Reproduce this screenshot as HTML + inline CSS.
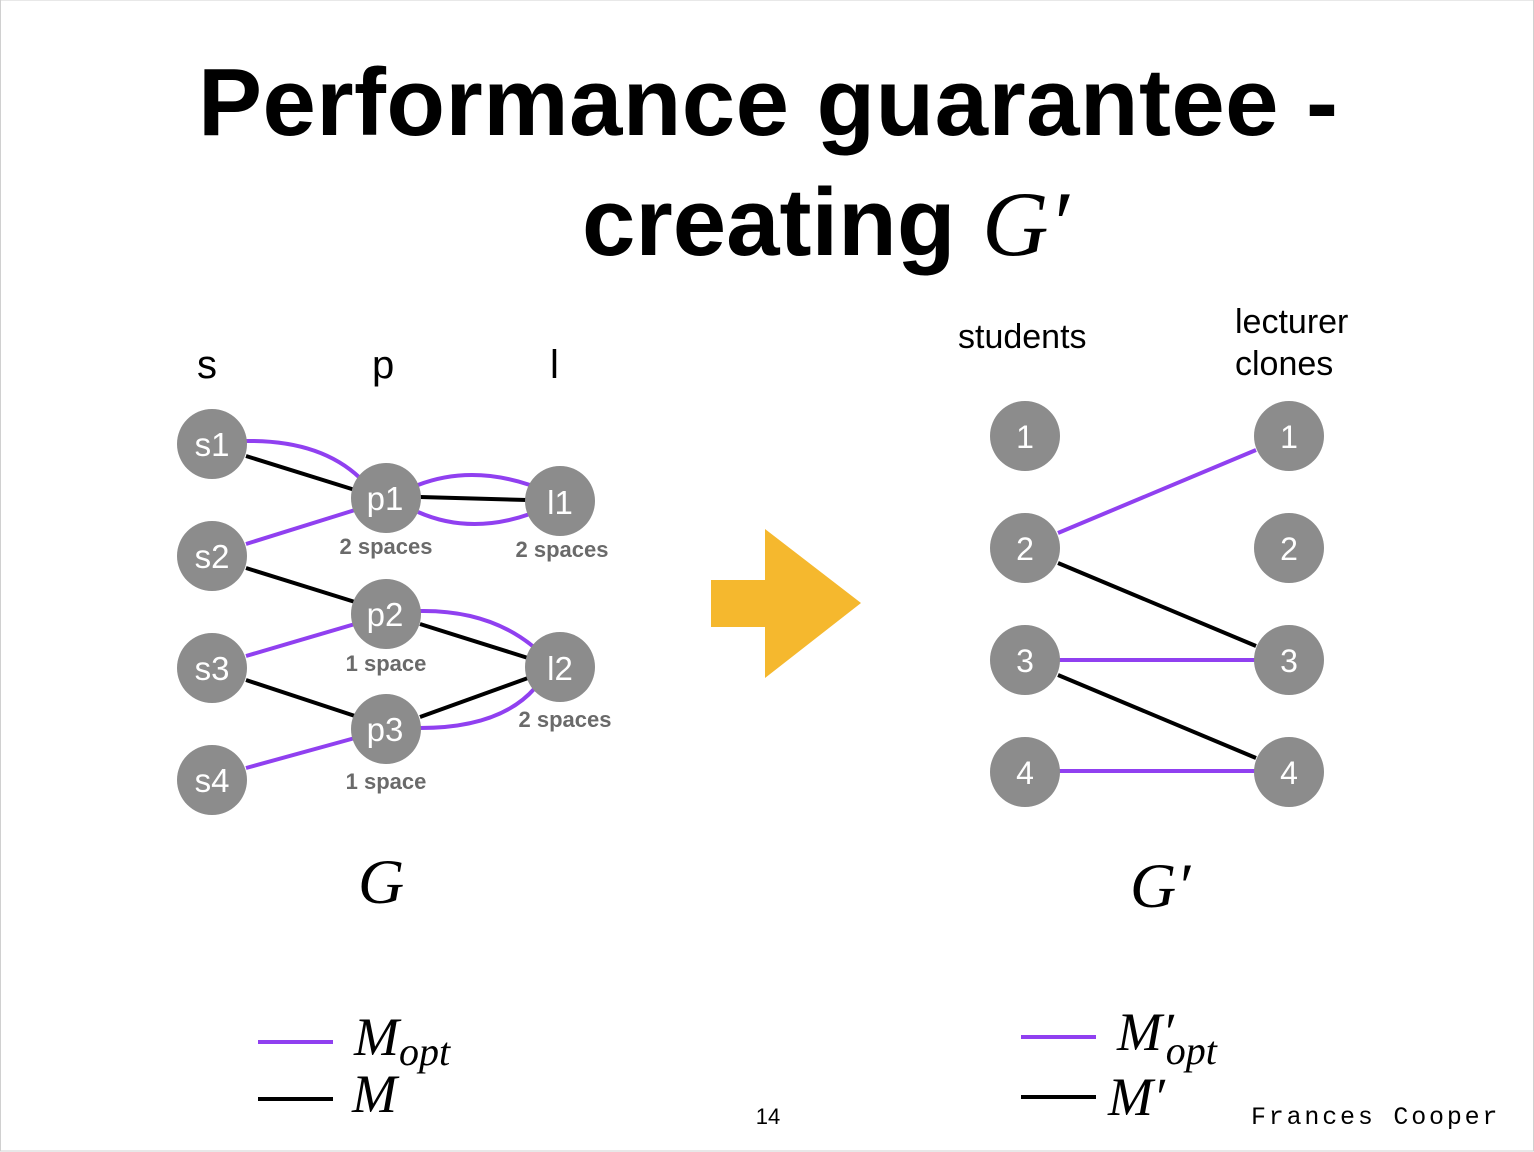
<!DOCTYPE html>
<html><head><meta charset="utf-8"><style>
body{margin:0;background:#fff;}
svg{display:block;font-family:"Liberation Sans",sans-serif;}
</style></head><body>
<svg width="1534" height="1152" viewBox="0 0 1534 1152">
<rect x="0.5" y="0" width="1533" height="1151" fill="#fff" stroke="#d0d0d0"/>
<text x="768" y="135" text-anchor="middle" font-size="96" font-weight="bold" fill="#000" textLength="1140">Performance guarantee -</text>
<text x="582" y="255" font-size="96" font-weight="bold" fill="#000">creating <tspan font-family="Liberation Serif" font-style="italic" font-weight="normal" font-size="92">G′</tspan></text>

<g font-size="40" fill="#000">
<text x="197" y="378">s</text><text x="372" y="378">p</text><text x="550" y="378">l</text>
</g>
<g font-size="34" fill="#000">
<text x="958" y="348">students</text>
<text x="1235" y="333">lecturer</text><text x="1235" y="375">clones</text>
</g>

<g fill="none" stroke-width="4">
<path d="M246,441 Q320,440 360,478" stroke="#9040f0"/>
<path d="M246,456 L355,490" stroke="#000"/>
<path d="M246,544 L355,510" stroke="#9040f0"/>
<path d="M418,485 Q470,465 530,485" stroke="#9040f0"/>
<path d="M420,497 L527,500" stroke="#000"/>
<path d="M418,512 Q470,535 530,514" stroke="#9040f0"/>
<path d="M246,568 L355,602" stroke="#000"/>
<path d="M246,656 L355,624" stroke="#9040f0"/>
<path d="M420,611 Q490,610 535,648" stroke="#9040f0"/>
<path d="M420,624 L528,658" stroke="#000"/>
<path d="M246,680 L355,716" stroke="#000"/>
<path d="M420,717 L528,678" stroke="#000"/>
<path d="M420,728 Q500,728 535,688" stroke="#9040f0"/>
<path d="M246,768 L355,738" stroke="#9040f0"/>
</g>

<g fill="#8c8c8c">
<circle cx="212" cy="444" r="35"/><circle cx="212" cy="556" r="35"/><circle cx="212" cy="668" r="35"/><circle cx="212" cy="780" r="35"/>
<circle cx="386" cy="498" r="35"/><circle cx="386" cy="614" r="35"/><circle cx="386" cy="729" r="35"/>
<circle cx="560" cy="501" r="35"/><circle cx="560" cy="667" r="35"/>
</g>
<g fill="#fff" font-size="33" text-anchor="middle">
<text x="212" y="456">s1</text><text x="212" y="568">s2</text><text x="212" y="680">s3</text><text x="212" y="792">s4</text>
<text x="385" y="510">p1</text><text x="385" y="626">p2</text><text x="385" y="741">p3</text>
<text x="560" y="514">l1</text><text x="560" y="680">l2</text>
</g>
<g fill="#6a6a6a" font-size="22" font-weight="bold" text-anchor="middle">
<text x="386" y="554">2 spaces</text><text x="562" y="557">2 spaces</text>
<text x="386" y="671">1 space</text><text x="565" y="727">2 spaces</text>
<text x="386" y="789">1 space</text>
</g>

<polygon points="711,580 765,580 765,529 861,603 765,678 765,627 711,627" fill="#f5b82e"/>

<g fill="none" stroke-width="4">
<line x1="1058" y1="533" x2="1256" y2="450" stroke="#9040f0"/>
<line x1="1058" y1="563" x2="1256" y2="646" stroke="#000"/>
<line x1="1058" y1="660" x2="1256" y2="660" stroke="#9040f0"/>
<line x1="1058" y1="675" x2="1256" y2="758" stroke="#000"/>
<line x1="1058" y1="771" x2="1256" y2="771" stroke="#9040f0"/>
</g>
<g fill="#8c8c8c">
<circle cx="1025" cy="436" r="35"/><circle cx="1025" cy="548" r="35"/><circle cx="1025" cy="660" r="35"/><circle cx="1025" cy="772" r="35"/>
<circle cx="1289" cy="436" r="35"/><circle cx="1289" cy="548" r="35"/><circle cx="1289" cy="660" r="35"/><circle cx="1289" cy="772" r="35"/>
</g>
<g fill="#fff" font-size="32" text-anchor="middle">
<text x="1025" y="448">1</text><text x="1025" y="560">2</text><text x="1025" y="672">3</text><text x="1025" y="784">4</text>
<text x="1289" y="448">1</text><text x="1289" y="560">2</text><text x="1289" y="672">3</text><text x="1289" y="784">4</text>
</g>

<g font-family="Liberation Serif" font-style="italic" fill="#000">
<text x="358" y="903" font-size="64">G</text>
<text x="1130" y="907" font-size="64">G′</text>
</g>

<g>
<line x1="258" y1="1042" x2="333" y2="1042" stroke="#9040f0" stroke-width="4"/>
<line x1="258" y1="1099" x2="333" y2="1099" stroke="#000" stroke-width="4"/>
<text x="354" y="1055" font-family="Liberation Serif" font-style="italic" font-size="54">M<tspan font-size="40" dy="10">opt</tspan></text>
<text x="352" y="1112" font-family="Liberation Serif" font-style="italic" font-size="54">M</text>
</g>
<g>
<line x1="1021" y1="1037" x2="1096" y2="1037" stroke="#9040f0" stroke-width="4"/>
<line x1="1021" y1="1097" x2="1096" y2="1097" stroke="#000" stroke-width="4"/>
<text x="1117" y="1050" font-family="Liberation Serif" font-style="italic" font-size="54">M′<tspan font-size="40" dx="-8" dy="14">opt</tspan></text>
<text x="1108" y="1115" font-family="Liberation Serif" font-style="italic" font-size="54">M′</text>
</g>

<text x="768" y="1124" text-anchor="middle" font-size="22" fill="#000">14</text>
<text x="1251" y="1124" font-family="Liberation Mono" font-size="25" letter-spacing="2.8" fill="#000">Frances Cooper</text>
</svg>
</body></html>
